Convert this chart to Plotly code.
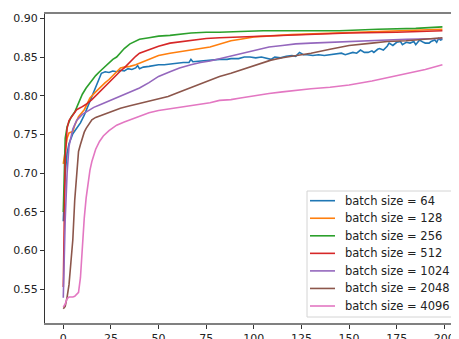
import plotly.graph_objects as go

labels = ["batch size = 64", "batch size = 128", "batch size = 256", "batch size = 512",
          "batch size = 1024", "batch size = 2048", "batch size = 4096"]
colors = ["#1f77b4", "#ff7f0e", "#2ca02c", "#d62728", "#9467bd", "#8c564b", "#e377c2"]

b_x = [0,1,2,3,5,7,9,11,12,14,16,18,19,20,22,24,26,28,30,32,34,36,38,39,40,42,45,48,50,53,56,60,63,66,67,68,72,75,78,82,86,88,92,95,98,101,104,107,109,111,114,117,120,122,124,126,128,131,134,137,140,143,146,148,150,152,154,156,158,160,162,163,165,166,168,170,171,173,175,177,178,180,182,184,185,187,189,190,192,193,195,196,197,198,199]
b_y = [0.638,0.700,0.726,0.738,0.751,0.758,0.765,0.775,0.781,0.793,0.805,0.818,0.825,0.829,0.831,0.830,0.832,0.831,0.833,0.832,0.835,0.834,0.836,0.839,0.835,0.837,0.838,0.839,0.840,0.840,0.841,0.842,0.843,0.843,0.847,0.844,0.845,0.846,0.846,0.847,0.847,0.848,0.848,0.850,0.850,0.849,0.850,0.848,0.847,0.850,0.849,0.851,0.852,0.851,0.856,0.853,0.853,0.852,0.853,0.852,0.853,0.854,0.855,0.853,0.855,0.856,0.855,0.859,0.856,0.856,0.858,0.856,0.860,0.861,0.859,0.864,0.868,0.865,0.869,0.870,0.866,0.869,0.868,0.870,0.866,0.872,0.869,0.868,0.868,0.870,0.872,0.869,0.874,0.872,0.873]

o_x = [0,1,2,3,4,5,6,8,11,14,17,19,22,24,26,28,30,32,35,38,40,45,50,56,62,67,72,77,82,88,93,100,120,150,175,199]
o_y = [0.712,0.730,0.745,0.752,0.753,0.754,0.762,0.773,0.782,0.797,0.805,0.810,0.817,0.821,0.826,0.832,0.836,0.837,0.838,0.840,0.842,0.848,0.852,0.855,0.857,0.859,0.861,0.863,0.867,0.871,0.873,0.876,0.879,0.882,0.884,0.886]

g_x = [0,1,2,4,6,8,10,12,15,17,19,22,24,26,28,30,32,35,38,40,45,50,56,62,67,75,82,93,105,120,145,165,185,199]
g_y = [0.650,0.745,0.760,0.772,0.779,0.790,0.802,0.810,0.820,0.826,0.831,0.838,0.843,0.847,0.850,0.855,0.861,0.867,0.871,0.873,0.875,0.877,0.878,0.880,0.881,0.882,0.882,0.883,0.884,0.884,0.884,0.886,0.887,0.889]

r_x = [0,1,2,3,5,7,10,12,15,19,22,24,26,28,30,32,35,38,40,45,50,56,62,67,75,82,93,100,120,150,175,199]
r_y = [0.553,0.720,0.758,0.768,0.775,0.782,0.786,0.789,0.795,0.805,0.813,0.818,0.823,0.827,0.832,0.836,0.844,0.851,0.855,0.860,0.864,0.868,0.870,0.872,0.874,0.875,0.876,0.877,0.879,0.881,0.882,0.884]

p_x = [0,1,2,3,5,7,10,13,16,19,22,25,28,30,35,40,45,50,56,61,67,72,77,82,88,93,100,108,115,122,130,140,150,165,180,199]
p_y = [0.539,0.640,0.700,0.735,0.757,0.768,0.776,0.781,0.785,0.788,0.791,0.794,0.797,0.799,0.804,0.810,0.817,0.825,0.831,0.836,0.840,0.843,0.845,0.848,0.852,0.855,0.859,0.863,0.865,0.867,0.868,0.869,0.870,0.872,0.873,0.874]

br_x = [0,1,2,3,4,5,6,7,8,9,10,11,12,14,15,17,20,25,30,35,40,45,50,55,61,66,72,77,82,88,93,98,104,109,115,120,130,140,150,162,170,180,190,199]
br_y = [0.525,0.528,0.540,0.556,0.585,0.614,0.665,0.704,0.728,0.737,0.746,0.753,0.758,0.765,0.769,0.772,0.775,0.780,0.784,0.787,0.790,0.793,0.796,0.799,0.805,0.810,0.815,0.820,0.825,0.829,0.833,0.837,0.842,0.846,0.849,0.851,0.855,0.860,0.865,0.868,0.870,0.871,0.873,0.875]

pk_x = [0,1,2,3,4,5,6,7,8,9,10,11,12,13,14,15,16,17,19,21,24,28,32,35,40,45,50,55,61,66,72,77,82,88,93,100,108,115,122,130,140,150,162,170,180,190,199]
pk_y = [0.527,0.531,0.538,0.540,0.540,0.540,0.541,0.543,0.546,0.565,0.605,0.642,0.668,0.689,0.704,0.715,0.724,0.731,0.741,0.748,0.755,0.762,0.766,0.769,0.774,0.778,0.781,0.783,0.785,0.787,0.789,0.791,0.794,0.795,0.797,0.800,0.803,0.805,0.807,0.809,0.811,0.814,0.819,0.823,0.829,0.834,0.840]

series_x = [b_x, o_x, g_x, r_x, p_x, br_x, pk_x]
series_y = [b_y, o_y, g_y, r_y, p_y, br_y, pk_y]

x_ticks = [0, 25, 50, 75, 100, 125, 150, 175, 200]
y_ticks = [0.55, 0.60, 0.65, 0.70, 0.75, 0.80, 0.85, 0.90]

fig = go.Figure()
for xs, ys, name, c in zip(series_x, series_y, labels, colors):
    fig.add_trace(go.Scatter(x=xs, y=ys, mode="lines", name=name, showlegend=False,
                             line=dict(color=c, width=1.6)))

# plot area geometry (page pixels) used for placing a matplotlib-style legend
PX0, PX1, PY0, PY1 = 45.0, 459.0, 14.0, 323.0
def px(x):
    return (x - PX0) / (PX1 - PX0)
def py(y):
    return (PY1 - y) / (PY1 - PY0)

shapes = [dict(type="rect", xref="paper", yref="paper",
               x0=px(307), x1=px(454), y0=py(317), y1=py(191),
               line=dict(color="#d4d4d4", width=1), fillcolor="rgba(255,255,255,0.85)",
               layer="above")]
annotations = []
row0, gap = 200.7, 17.55
for i, (name, c) in enumerate(zip(labels, colors)):
    yy = row0 + i * gap
    shapes.append(dict(type="line", xref="paper", yref="paper",
                       x0=px(310), x1=px(335), y0=py(yy), y1=py(yy),
                       line=dict(color=c, width=1.6), layer="above"))
    annotations.append(dict(xref="paper", yref="paper", x=px(343), y=py(yy),
                            xanchor="left", yanchor="middle", text=name, showarrow=False,
                            font=dict(family="DejaVu Sans", size=11.5, color="#222")))

font = dict(family="DejaVu Sans", size=11, color="#222")
fig.update_layout(
    width=451, height=331,
    margin=dict(l=37, r=0, t=6, b=16, autoexpand=False),
    paper_bgcolor="white", plot_bgcolor="white",
    font=font,
    showlegend=False,
    shapes=shapes,
    annotations=annotations,
)
fig.update_xaxes(range=[-9.6, 207.7], tickvals=x_ticks, ticktext=[str(v) for v in x_ticks],
                 showgrid=False, zeroline=False, showline=True, linecolor="#808080",
                 linewidth=2, mirror=True, ticks="outside", ticklen=4, tickcolor="#333",
                 tickfont=font, automargin=False)
fig.update_yaxes(range=[0.5065, 0.9056], tickvals=y_ticks, ticktext=[f"{v:.2f}" for v in y_ticks],
                 showgrid=False, zeroline=False, showline=True, linecolor="#333",
                 linewidth=1, mirror=False, ticks="outside", ticklen=4, tickcolor="#333",
                 tickfont=font, automargin=False)

fig.write_html("out.html")
